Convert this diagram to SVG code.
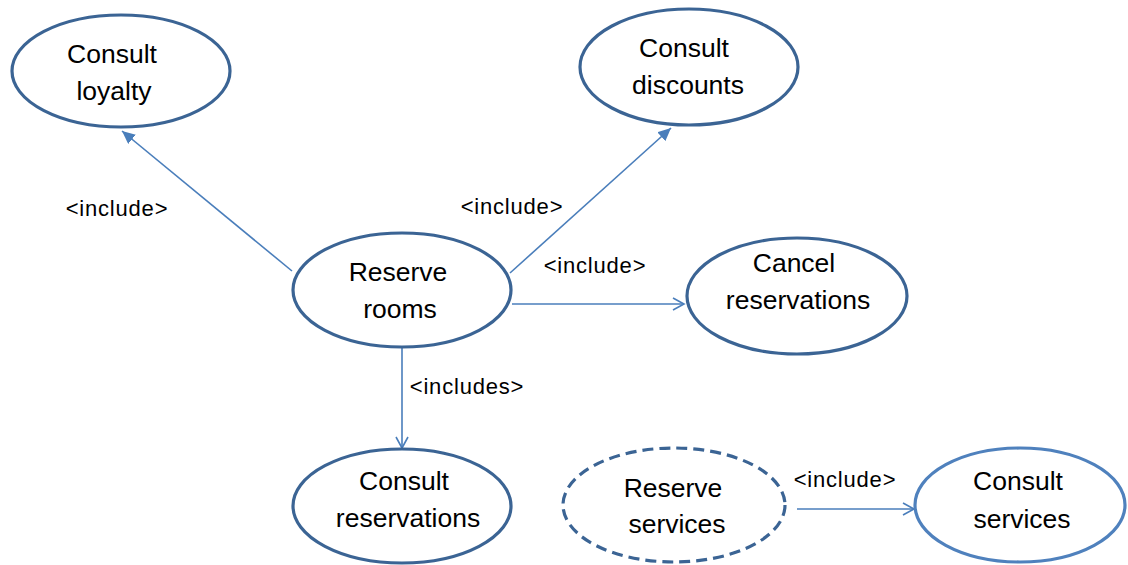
<svg xmlns="http://www.w3.org/2000/svg" width="1128" height="565" viewBox="0 0 1128 565">
  <style>
    .uc { fill: #ffffff; stroke: #3b6494; stroke-width: 3.2; }
    .uc.dashed { stroke-dasharray: 11 6; }
    .uc.light { stroke: #4f81bd; }
    .name { font-family: "Liberation Sans", Arial, sans-serif; font-size: 26.5px; fill: #000000; text-anchor: middle; }
    .rel { font-family: "Liberation Sans", Arial, sans-serif; font-size: 22px; letter-spacing: 0.8px; fill: #000000; text-anchor: middle; }
    .link { stroke: #4a7ebb; stroke-width: 1.6; fill: none; }
  </style>
  <defs>
    <marker id="arrow-solid" markerUnits="userSpaceOnUse" markerWidth="14" markerHeight="12" refX="13" refY="6" orient="auto">
      <path d="M0,0 L13,6 L0,12 Z" fill="#4a7ebb"/>
    </marker>
    <marker id="arrow-open" markerUnits="userSpaceOnUse" markerWidth="14" markerHeight="14" refX="12" refY="7" orient="auto">
      <path d="M1,1 L12,7 L1,13" fill="none" stroke="#4a7ebb" stroke-width="1.6"/>
    </marker>
  </defs>

  <rect width="1128" height="565" fill="#ffffff"/>

  <!-- connectors -->
  <g id="connectors">
    <line class="link" x1="292" y1="271" x2="122" y2="131" marker-end="url(#arrow-solid)"/>
    <line class="link" x1="510" y1="273" x2="671" y2="128" marker-end="url(#arrow-solid)"/>
    <line class="link" x1="512" y1="304" x2="684" y2="304" marker-end="url(#arrow-open)"/>
    <line class="link" x1="402" y1="348" x2="402" y2="448" marker-end="url(#arrow-open)"/>
    <line class="link" x1="797" y1="509" x2="914" y2="509" marker-end="url(#arrow-open)"/>
    <text class="rel" x="117" y="216">&lt;include&gt;</text>
    <text class="rel" x="512" y="214">&lt;include&gt;</text>
    <text class="rel" x="595" y="273">&lt;include&gt;</text>
    <text class="rel" x="467" y="394">&lt;includes&gt;</text>
    <text class="rel" x="845" y="487">&lt;include&gt;</text>
  </g>

  <!-- use cases -->
  <g id="consult-loyalty">
    <ellipse class="uc" cx="121" cy="71" rx="109" ry="56"/>
    <text class="name" x="112" y="63">Consult</text>
    <text class="name" x="114" y="100">loyalty</text>
  </g>
  <g id="consult-discounts">
    <ellipse class="uc" cx="689" cy="67" rx="109" ry="58"/>
    <text class="name" x="684" y="57">Consult</text>
    <text class="name" x="688" y="94">discounts</text>
  </g>
  <g id="reserve-rooms">
    <ellipse class="uc" cx="402" cy="290" rx="109" ry="57"/>
    <text class="name" x="398" y="281">Reserve</text>
    <text class="name" x="400" y="318">rooms</text>
  </g>
  <g id="cancel-reservations">
    <ellipse class="uc" cx="797" cy="296" rx="110" ry="58"/>
    <text class="name" x="794" y="272">Cancel</text>
    <text class="name" x="798" y="309">reservations</text>
  </g>
  <g id="consult-reservations">
    <ellipse class="uc" cx="402" cy="506" rx="109" ry="57"/>
    <text class="name" x="404" y="490">Consult</text>
    <text class="name" x="408" y="527">reservations</text>
  </g>
  <g id="reserve-services">
    <ellipse class="uc dashed" cx="674" cy="505" rx="111" ry="57"/>
    <text class="name" x="673" y="497">Reserve</text>
    <text class="name" x="677" y="533">services</text>
  </g>
  <g id="consult-services">
    <ellipse class="uc light" cx="1020" cy="505" rx="105" ry="57"/>
    <text class="name" x="1018" y="490">Consult</text>
    <text class="name" x="1022" y="528">services</text>
  </g>
</svg>
